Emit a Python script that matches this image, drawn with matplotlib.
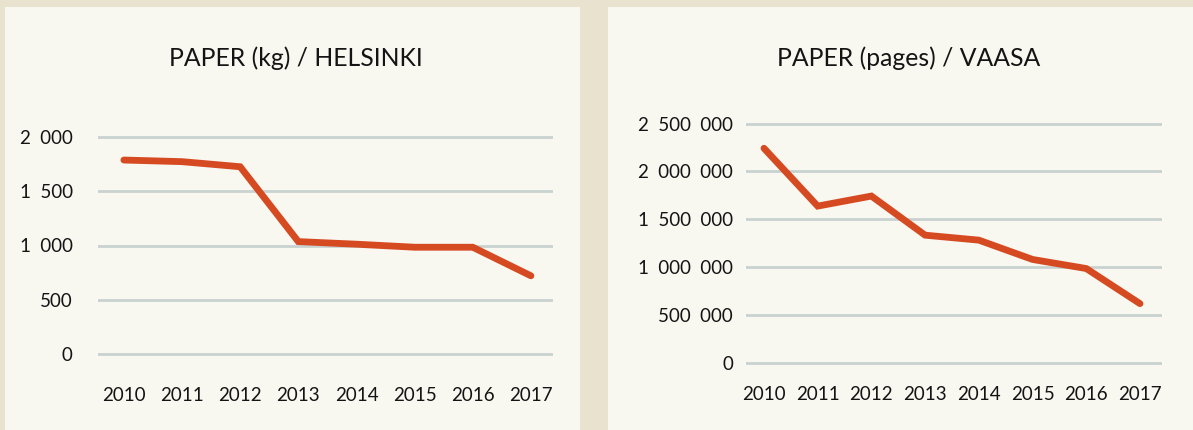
import matplotlib.pyplot as plt
from matplotlib.patches import Rectangle
from matplotlib.ticker import FuncFormatter

plt.rcParams['font.family'] = ['Lato', 'DejaVu Sans']

years = ['2010', '2011', '2012', '2013', '2014', '2015', '2016', '2017']
helsinki_kg = [1790, 1775, 1728, 1036, 1012, 984, 984, 720]
vaasa_pages = [2243000, 1638000, 1743000, 1334000, 1282000, 1080000, 985000, 618000]

helsinki_ticks = [0, 500, 1000, 1500, 2000]
vaasa_ticks = [0, 500000, 1000000, 1500000, 2000000, 2500000]

W, H = 1193, 430
outer_bg = '#e8e2cf'
panel_bg = '#f8f7f0'
line_col = '#d64a22'
grid_col = '#c8d2d0'
text_col = '#141414'

fig = plt.figure(figsize=(W / 100, H / 100), dpi=100)
fig.patch.set_facecolor(outer_bg)

# the two light cards behind the charts
for x0, x1 in [(5, 580), (608, 1193)]:
    fig.patches.append(Rectangle((x0 / W, 0), (x1 - x0) / W, (H - 7) / H,
                                 transform=fig.transFigure, facecolor=panel_bg,
                                 edgecolor='none', zorder=-5))


def space_fmt(v, pos):
    # thousands split by a wider (en) space, like the original
    return '{:,}'.format(int(v)).replace(',', '\u2002')


def make_axes(left, right, top_px, bottom_px):
    # pixel box -> figure fraction
    return fig.add_axes([left / W, 1 - bottom_px / H, (right - left) / W,
                         (bottom_px - top_px) / H])


def draw_chart(ax, values, ticks, xlim, ylim, ypad, xpad):
    ax.set_facecolor('none')
    ax.plot(range(len(years)), values, color=line_col, lw=4.9,
            solid_capstyle='round', solid_joinstyle='miter', zorder=3)
    ax.set_xlim(*xlim)
    ax.set_ylim(*ylim)
    ax.set_xticks(range(len(years)))
    ax.set_xticklabels(years)
    ax.set_yticks(ticks)
    ax.yaxis.set_major_formatter(FuncFormatter(space_fmt))
    for t in ticks:
        ax.axhline(t, color=grid_col, lw=2, zorder=1)
    for s in ax.spines.values():
        s.set_visible(False)
    ax.tick_params(axis='both', length=0, labelsize=13.5, colors=text_col)
    ax.tick_params(axis='y', pad=ypad)
    ax.tick_params(axis='x', pad=xpad)


# left: Helsinki (kg)
ax1 = make_axes(97.7, 553, 126.5, 364.5)
draw_chart(ax1, helsinki_kg, helsinki_ticks, (-0.45, 7.38), (-100, 2100), 18, 16)

# right: Vaasa (pages)
ax2 = make_axes(745.7, 1162, 114.1, 372.3)
draw_chart(ax2, vaasa_pages, vaasa_ticks, (-0.34, 7.41), (-100000, 2600000), 9, 9.8)

fig.text(296 / W, 1 - 66.5 / H, 'PAPER (kg) / HELSINKI', ha='center',
         va='baseline', fontsize=17.8, color=text_col)
fig.text(909 / W, 1 - 66.5 / H, 'PAPER (pages) / VAASA', ha='center',
         va='baseline', fontsize=17.8, color=text_col)

fig.savefig('out.png', dpi=100, facecolor=fig.get_facecolor())
